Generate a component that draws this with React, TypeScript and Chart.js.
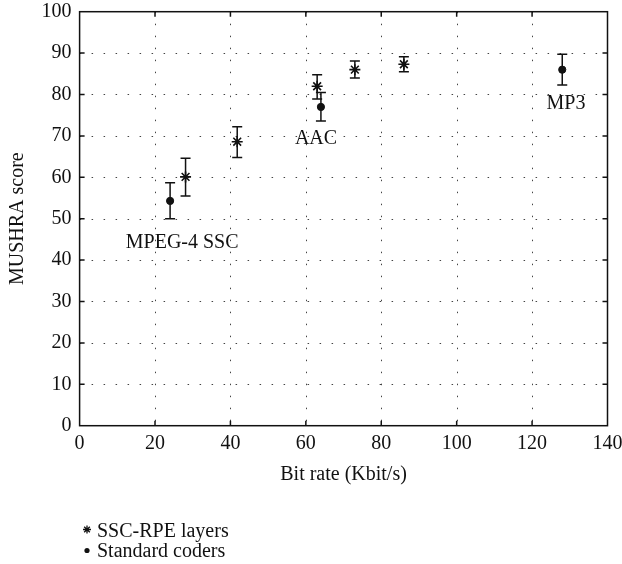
import React, { useEffect, useRef } from 'react';
import { Chart, registerables } from 'chart.js';

Chart.register(...registerables);

// ---- data ----
const sscRate = [28.1, 41.8, 63.0, 73.0, 86.0];
const sscScore = [60.1, 68.6, 82.0, 86.0, 87.3];
const sscLow = [55.5, 64.8, 78.9, 84.0, 85.5];
const sscHigh = [64.6, 72.2, 84.8, 88.1, 89.1];

const stdRate = [24.0, 64.0, 128.0];
const stdScore = [54.3, 77.0, 86.0];
const stdLow = [50.0, 73.6, 82.3];
const stdHigh = [58.7, 80.5, 89.7];

const coderNames = ['MPEG-4 SSC', 'AAC', 'MP3'];
// annotation anchors (data coords: text centre x, baseline y)
const coderLabelX = [27.2, 62.7, 129.0];
const coderLabelY = [42.9, 68.0, 76.6];

const legendLabels = ['SSC-RPE layers', 'Standard coders'];

const xTitle = 'Bit rate (Kbit/s)';
const yTitle = 'MUSHRA score';

const FONT = "'Liberation Serif', 'Times New Roman', serif";
const FS = 20;
const INK = '#111';

export default function App() {
  const ref = useRef<HTMLCanvasElement>(null);

  useEffect(() => {
    if (!ref.current) return;

    const drawStar = (ctx: CanvasRenderingContext2D, x: number, y: number, r: number) => {
      ctx.beginPath();
      for (let i = 0; i < 4; i++) {
        const a = (i * Math.PI) / 4;
        ctx.moveTo(x - r * Math.cos(a), y - r * Math.sin(a));
        ctx.lineTo(x + r * Math.cos(a), y + r * Math.sin(a));
      }
      ctx.stroke();
    };

    const deco = {
      id: 'deco',
      beforeDatasetsDraw(chart: any) {
        const { ctx, chartArea: a, scales } = chart;
        const xs = scales.x;
        const ys = scales.y;
        ctx.save();
        // dotted grid
        ctx.strokeStyle = '#444';
        ctx.lineWidth = 1;
        ctx.setLineDash([1.5, 10.5]);
        ys.ticks.forEach((t: any) => {
          if (t.value <= 0 || t.value >= 100) return;
          const y = Math.round(ys.getPixelForValue(t.value)) + 0.5;
          ctx.beginPath();
          ctx.moveTo(a.left, y);
          ctx.lineTo(a.right, y);
          ctx.stroke();
        });
        xs.ticks.forEach((t: any) => {
          if (t.value <= 0 || t.value >= 140) return;
          const x = Math.round(xs.getPixelForValue(t.value)) + 0.5;
          ctx.beginPath();
          ctx.moveTo(x, a.top);
          ctx.lineTo(x, a.bottom);
          ctx.stroke();
        });
        ctx.setLineDash([]);

        // error bars
        ctx.strokeStyle = INK;
        ctx.lineWidth = 1.5;
        const bar = (xv: number, lo: number, hi: number) => {
          const x = xs.getPixelForValue(xv);
          const y1 = ys.getPixelForValue(lo);
          const y2 = ys.getPixelForValue(hi);
          ctx.beginPath();
          ctx.moveTo(x, y1);
          ctx.lineTo(x, y2);
          ctx.moveTo(x - 5, y1);
          ctx.lineTo(x + 5, y1);
          ctx.moveTo(x - 5, y2);
          ctx.lineTo(x + 5, y2);
          ctx.stroke();
        };
        sscRate.forEach((r, i) => bar(r, sscLow[i], sscHigh[i]));
        stdRate.forEach((r, i) => bar(r, stdLow[i], stdHigh[i]));
        ctx.restore();
      },
      afterDatasetsDraw(chart: any) {
        const { ctx, chartArea: a, scales } = chart;
        const xs = scales.x;
        const ys = scales.y;
        ctx.save();
        // frame
        ctx.strokeStyle = INK;
        ctx.lineWidth = 1.5;
        ctx.strokeRect(a.left, a.top, a.right - a.left, a.bottom - a.top);
        // inward ticks
        const tl = 5;
        ctx.beginPath();
        xs.ticks.forEach((t: any) => {
          if (t.value <= 0 || t.value >= 140) return;
          const x = xs.getPixelForValue(t.value);
          ctx.moveTo(x, a.bottom);
          ctx.lineTo(x, a.bottom - tl);
          ctx.moveTo(x, a.top);
          ctx.lineTo(x, a.top + tl);
        });
        ys.ticks.forEach((t: any) => {
          if (t.value <= 0 || t.value >= 100) return;
          const y = ys.getPixelForValue(t.value);
          ctx.moveTo(a.left, y);
          ctx.lineTo(a.left + tl, y);
          ctx.moveTo(a.right, y);
          ctx.lineTo(a.right - tl, y);
        });
        ctx.stroke();

        // coder labels
        ctx.fillStyle = INK;
        ctx.font = `${FS}px ${FONT}`;
        ctx.textAlign = 'center';
        ctx.textBaseline = 'alphabetic';
        coderNames.forEach((n, i) => {
          ctx.fillText(n, xs.getPixelForValue(coderLabelX[i]), ys.getPixelForValue(coderLabelY[i]));
        });

        // legend
        ctx.textAlign = 'left';
        const lx = 97;
        const ly = [536.5, 556.5];
        ctx.fillText(legendLabels[0], lx, ly[0]);
        ctx.fillText(legendLabels[1], lx, ly[1]);
        ctx.lineWidth = 1.3;
        drawStar(ctx, 87, ly[0] - 7, 4);
        ctx.beginPath();
        ctx.arc(87, ly[1] - 6, 2.6, 0, Math.PI * 2);
        ctx.fill();
        ctx.restore();
      },
    };

    const chart = new Chart(ref.current, {
      type: 'scatter',
      data: {
        datasets: [
          {
            label: legendLabels[0],
            data: sscRate.map((x, i) => ({ x, y: sscScore[i] })),
            pointStyle: 'star',
            pointRadius: 5.5,
            borderColor: INK,
            backgroundColor: INK,
            borderWidth: 1.6,
          },
          {
            label: legendLabels[1],
            data: stdRate.map((x, i) => ({ x, y: stdScore[i] })),
            pointStyle: 'circle',
            pointRadius: 3.6,
            borderColor: INK,
            backgroundColor: INK,
            borderWidth: 1,
          },
        ],
      },
      options: {
        animation: false,
        responsive: false,
        events: [],
        layout: { padding: { left: 0, top: 11.7, right: 14.5, bottom: 77 } },
        plugins: { legend: { display: false }, tooltip: { enabled: false } },
        scales: {
          x: {
            type: 'linear',
            min: 0,
            max: 140,
            afterFit: (s: any) => {
              s.height = 61.3;
              s.paddingLeft = 0;
              s.paddingRight = 0;
            },
            grid: { display: false, drawTicks: false },
            border: { display: false },
            ticks: { stepSize: 20, color: INK, padding: 6, font: { family: FONT, size: FS } },
            title: {
              display: true,
              text: xTitle,
              color: INK,
              font: { family: FONT, size: FS },
              padding: { top: 0, bottom: 0 },
            },
          },
          y: {
            type: 'linear',
            min: 0,
            max: 100,
            afterFit: (s: any) => {
              s.width = 79.6;
              s.paddingTop = 0;
              s.paddingBottom = 0;
            },
            grid: { display: false, drawTicks: false },
            border: { display: false },
            ticks: { stepSize: 10, color: INK, padding: 8, font: { family: FONT, size: FS } },
            title: {
              display: true,
              text: yTitle,
              color: INK,
              font: { family: FONT, size: FS },
              padding: { top: 5.5, bottom: 0 },
            },
          },
        },
      },
      plugins: [deco],
    });
    return () => chart.destroy();
  }, []);

  return (
    <div style={{ position: 'fixed', left: 0, top: 0, width: 622, height: 564, background: '#fff' }}>
      <canvas ref={ref} width={622} height={564} style={{ display: 'block', width: 622, height: 564 }} />
    </div>
  );
}
